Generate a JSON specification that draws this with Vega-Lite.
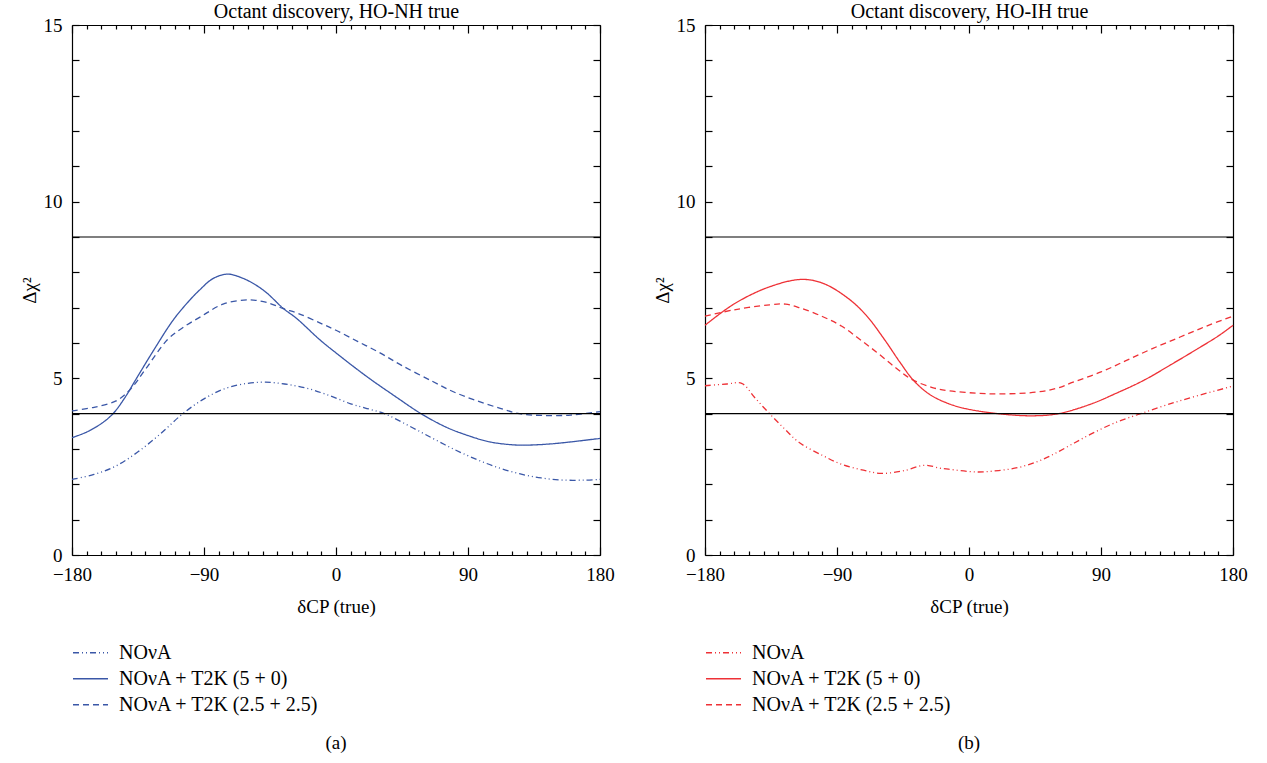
{
  "$schema": "https://vega.github.io/schema/vega-lite/v6.json",
  "background": "white",
  "padding": {"left": 20, "top": 1, "right": 5, "bottom": 0},
  "config": {
    "font": "Liberation Serif",
    "view": {"stroke": null},
    "axis": {"domainColor": "black", "domainWidth": 1.2, "tickColor": "black", "tickWidth": 1.2, "labelColor": "black", "titleColor": "black", "labelFont": "Liberation Serif", "titleFont": "Liberation Serif", "labelFontSize": 19, "titleFontSize": 19, "titleFontWeight": "normal", "grid": false, "labelFlush": false, "labelOverlap": false},
    "legend": {"labelFont": "Liberation Serif", "labelFontSize": 20, "labelColor": "black", "labelLimit": 500},
    "title": {"font": "Liberation Serif", "fontSize": 19, "fontWeight": "normal", "color": "black"}
  },
  "datasets": {
    "nh": [
      {"series": "NOνA", "delta": -180, "chi2": 2.14},
      {"series": "NOνA", "delta": -165, "chi2": 2.28},
      {"series": "NOνA", "delta": -150, "chi2": 2.52},
      {"series": "NOνA", "delta": -135, "chi2": 2.92},
      {"series": "NOνA", "delta": -120, "chi2": 3.42},
      {"series": "NOνA", "delta": -105, "chi2": 3.98},
      {"series": "NOνA", "delta": -90, "chi2": 4.42},
      {"series": "NOνA", "delta": -75, "chi2": 4.72},
      {"series": "NOνA", "delta": -60, "chi2": 4.86},
      {"series": "NOνA", "delta": -48, "chi2": 4.89},
      {"series": "NOνA", "delta": -35, "chi2": 4.84},
      {"series": "NOνA", "delta": -20, "chi2": 4.72},
      {"series": "NOνA", "delta": -5, "chi2": 4.52},
      {"series": "NOνA", "delta": 10, "chi2": 4.28},
      {"series": "NOνA", "delta": 20, "chi2": 4.16},
      {"series": "NOνA", "delta": 33, "chi2": 4.0},
      {"series": "NOνA", "delta": 50, "chi2": 3.65},
      {"series": "NOνA", "delta": 66, "chi2": 3.3},
      {"series": "NOνA", "delta": 80, "chi2": 3.0},
      {"series": "NOνA", "delta": 95, "chi2": 2.72},
      {"series": "NOνA", "delta": 110, "chi2": 2.48},
      {"series": "NOνA", "delta": 125, "chi2": 2.3},
      {"series": "NOνA", "delta": 140, "chi2": 2.18},
      {"series": "NOνA", "delta": 155, "chi2": 2.12},
      {"series": "NOνA", "delta": 170, "chi2": 2.12},
      {"series": "NOνA", "delta": 180, "chi2": 2.14},
      {"series": "NOνA + T2K (5 + 0)", "delta": -180, "chi2": 3.32},
      {"series": "NOνA + T2K (5 + 0)", "delta": -170, "chi2": 3.48},
      {"series": "NOνA + T2K (5 + 0)", "delta": -160, "chi2": 3.72},
      {"series": "NOνA + T2K (5 + 0)", "delta": -152, "chi2": 4.0},
      {"series": "NOνA + T2K (5 + 0)", "delta": -144, "chi2": 4.45},
      {"series": "NOνA + T2K (5 + 0)", "delta": -136, "chi2": 5.0},
      {"series": "NOνA + T2K (5 + 0)", "delta": -125, "chi2": 5.75},
      {"series": "NOνA + T2K (5 + 0)", "delta": -111, "chi2": 6.65},
      {"series": "NOνA + T2K (5 + 0)", "delta": -100, "chi2": 7.2},
      {"series": "NOνA + T2K (5 + 0)", "delta": -93, "chi2": 7.5},
      {"series": "NOνA + T2K (5 + 0)", "delta": -84, "chi2": 7.82},
      {"series": "NOνA + T2K (5 + 0)", "delta": -74, "chi2": 7.95},
      {"series": "NOνA + T2K (5 + 0)", "delta": -64, "chi2": 7.84},
      {"series": "NOνA + T2K (5 + 0)", "delta": -55, "chi2": 7.65},
      {"series": "NOνA + T2K (5 + 0)", "delta": -47, "chi2": 7.41},
      {"series": "NOνA + T2K (5 + 0)", "delta": -36, "chi2": 6.98},
      {"series": "NOνA + T2K (5 + 0)", "delta": -27, "chi2": 6.7},
      {"series": "NOνA + T2K (5 + 0)", "delta": -11, "chi2": 6.09},
      {"series": "NOνA + T2K (5 + 0)", "delta": 0, "chi2": 5.72},
      {"series": "NOνA + T2K (5 + 0)", "delta": 21, "chi2": 5.05},
      {"series": "NOνA + T2K (5 + 0)", "delta": 40, "chi2": 4.5},
      {"series": "NOνA + T2K (5 + 0)", "delta": 58, "chi2": 4.0},
      {"series": "NOνA + T2K (5 + 0)", "delta": 75, "chi2": 3.62},
      {"series": "NOνA + T2K (5 + 0)", "delta": 90, "chi2": 3.38},
      {"series": "NOνA + T2K (5 + 0)", "delta": 105, "chi2": 3.2},
      {"series": "NOνA + T2K (5 + 0)", "delta": 120, "chi2": 3.12},
      {"series": "NOνA + T2K (5 + 0)", "delta": 130, "chi2": 3.11},
      {"series": "NOνA + T2K (5 + 0)", "delta": 145, "chi2": 3.14},
      {"series": "NOνA + T2K (5 + 0)", "delta": 160, "chi2": 3.2},
      {"series": "NOνA + T2K (5 + 0)", "delta": 180, "chi2": 3.3},
      {"series": "NOνA + T2K (2.5 + 2.5)", "delta": -180, "chi2": 4.08},
      {"series": "NOνA + T2K (2.5 + 2.5)", "delta": -165, "chi2": 4.18},
      {"series": "NOνA + T2K (2.5 + 2.5)", "delta": -150, "chi2": 4.36},
      {"series": "NOνA + T2K (2.5 + 2.5)", "delta": -140, "chi2": 4.7},
      {"series": "NOνA + T2K (2.5 + 2.5)", "delta": -130, "chi2": 5.25},
      {"series": "NOνA + T2K (2.5 + 2.5)", "delta": -115, "chi2": 6.09},
      {"series": "NOνA + T2K (2.5 + 2.5)", "delta": -105, "chi2": 6.42},
      {"series": "NOνA + T2K (2.5 + 2.5)", "delta": -92, "chi2": 6.75},
      {"series": "NOνA + T2K (2.5 + 2.5)", "delta": -77, "chi2": 7.1},
      {"series": "NOνA + T2K (2.5 + 2.5)", "delta": -59, "chi2": 7.22},
      {"series": "NOνA + T2K (2.5 + 2.5)", "delta": -45, "chi2": 7.12},
      {"series": "NOνA + T2K (2.5 + 2.5)", "delta": -36, "chi2": 6.97},
      {"series": "NOνA + T2K (2.5 + 2.5)", "delta": -26, "chi2": 6.84},
      {"series": "NOνA + T2K (2.5 + 2.5)", "delta": -10, "chi2": 6.55},
      {"series": "NOνA + T2K (2.5 + 2.5)", "delta": 0, "chi2": 6.36},
      {"series": "NOνA + T2K (2.5 + 2.5)", "delta": 15, "chi2": 6.04},
      {"series": "NOνA + T2K (2.5 + 2.5)", "delta": 30, "chi2": 5.72},
      {"series": "NOνA + T2K (2.5 + 2.5)", "delta": 45, "chi2": 5.36},
      {"series": "NOνA + T2K (2.5 + 2.5)", "delta": 66, "chi2": 4.91},
      {"series": "NOνA + T2K (2.5 + 2.5)", "delta": 80, "chi2": 4.62},
      {"series": "NOνA + T2K (2.5 + 2.5)", "delta": 95, "chi2": 4.38},
      {"series": "NOνA + T2K (2.5 + 2.5)", "delta": 112, "chi2": 4.15},
      {"series": "NOνA + T2K (2.5 + 2.5)", "delta": 125, "chi2": 4.0},
      {"series": "NOνA + T2K (2.5 + 2.5)", "delta": 140, "chi2": 3.95},
      {"series": "NOνA + T2K (2.5 + 2.5)", "delta": 160, "chi2": 3.96},
      {"series": "NOνA + T2K (2.5 + 2.5)", "delta": 180, "chi2": 4.06}
    ],
    "ih": [
      {"series": "NOνA", "delta": -180, "chi2": 4.79},
      {"series": "NOνA", "delta": -165, "chi2": 4.84},
      {"series": "NOνA", "delta": -155, "chi2": 4.86},
      {"series": "NOνA", "delta": -146, "chi2": 4.45},
      {"series": "NOνA", "delta": -136, "chi2": 4.0},
      {"series": "NOνA", "delta": -126, "chi2": 3.58},
      {"series": "NOνA", "delta": -116, "chi2": 3.19},
      {"series": "NOνA", "delta": -100, "chi2": 2.82},
      {"series": "NOνA", "delta": -87, "chi2": 2.57},
      {"series": "NOνA", "delta": -72, "chi2": 2.4},
      {"series": "NOνA", "delta": -60, "chi2": 2.31},
      {"series": "NOνA", "delta": -45, "chi2": 2.38},
      {"series": "NOνA", "delta": -30, "chi2": 2.54},
      {"series": "NOνA", "delta": -20, "chi2": 2.46},
      {"series": "NOνA", "delta": -14, "chi2": 2.43},
      {"series": "NOνA", "delta": 5, "chi2": 2.35},
      {"series": "NOνA", "delta": 20, "chi2": 2.39},
      {"series": "NOνA", "delta": 34, "chi2": 2.48},
      {"series": "NOνA", "delta": 47, "chi2": 2.65},
      {"series": "NOνA", "delta": 58, "chi2": 2.86},
      {"series": "NOνA", "delta": 70, "chi2": 3.13},
      {"series": "NOνA", "delta": 83, "chi2": 3.42},
      {"series": "NOνA", "delta": 100, "chi2": 3.75},
      {"series": "NOνA", "delta": 117, "chi2": 4.0},
      {"series": "NOνA", "delta": 135, "chi2": 4.25},
      {"series": "NOνA", "delta": 156, "chi2": 4.51},
      {"series": "NOνA", "delta": 180, "chi2": 4.78},
      {"series": "NOνA + T2K (5 + 0)", "delta": -180, "chi2": 6.5},
      {"series": "NOνA + T2K (5 + 0)", "delta": -160, "chi2": 7.11},
      {"series": "NOνA + T2K (5 + 0)", "delta": -136, "chi2": 7.59},
      {"series": "NOνA + T2K (5 + 0)", "delta": -114, "chi2": 7.8},
      {"series": "NOνA + T2K (5 + 0)", "delta": -99, "chi2": 7.68},
      {"series": "NOνA + T2K (5 + 0)", "delta": -82, "chi2": 7.25},
      {"series": "NOνA + T2K (5 + 0)", "delta": -70, "chi2": 6.78},
      {"series": "NOνA + T2K (5 + 0)", "delta": -58, "chi2": 6.12},
      {"series": "NOνA + T2K (5 + 0)", "delta": -47, "chi2": 5.45},
      {"series": "NOνA + T2K (5 + 0)", "delta": -38, "chi2": 4.95},
      {"series": "NOνA + T2K (5 + 0)", "delta": -27, "chi2": 4.55},
      {"series": "NOνA + T2K (5 + 0)", "delta": -15, "chi2": 4.3},
      {"series": "NOνA + T2K (5 + 0)", "delta": -2, "chi2": 4.14},
      {"series": "NOνA + T2K (5 + 0)", "delta": 22, "chi2": 3.99},
      {"series": "NOνA + T2K (5 + 0)", "delta": 44, "chi2": 3.94},
      {"series": "NOνA + T2K (5 + 0)", "delta": 61, "chi2": 4.0},
      {"series": "NOνA + T2K (5 + 0)", "delta": 83, "chi2": 4.27},
      {"series": "NOνA + T2K (5 + 0)", "delta": 100, "chi2": 4.57},
      {"series": "NOνA + T2K (5 + 0)", "delta": 119, "chi2": 4.94},
      {"series": "NOνA + T2K (5 + 0)", "delta": 137, "chi2": 5.37},
      {"series": "NOνA + T2K (5 + 0)", "delta": 156, "chi2": 5.84},
      {"series": "NOνA + T2K (5 + 0)", "delta": 170, "chi2": 6.2},
      {"series": "NOνA + T2K (5 + 0)", "delta": 180, "chi2": 6.5},
      {"series": "NOνA + T2K (2.5 + 2.5)", "delta": -180, "chi2": 6.76},
      {"series": "NOνA + T2K (2.5 + 2.5)", "delta": -160, "chi2": 6.94},
      {"series": "NOνA + T2K (2.5 + 2.5)", "delta": -136, "chi2": 7.08},
      {"series": "NOνA + T2K (2.5 + 2.5)", "delta": -125, "chi2": 7.1},
      {"series": "NOνA + T2K (2.5 + 2.5)", "delta": -115, "chi2": 6.99},
      {"series": "NOνA + T2K (2.5 + 2.5)", "delta": -100, "chi2": 6.75},
      {"series": "NOνA + T2K (2.5 + 2.5)", "delta": -87, "chi2": 6.48},
      {"series": "NOνA + T2K (2.5 + 2.5)", "delta": -75, "chi2": 6.12},
      {"series": "NOνA + T2K (2.5 + 2.5)", "delta": -63, "chi2": 5.74},
      {"series": "NOνA + T2K (2.5 + 2.5)", "delta": -50, "chi2": 5.3},
      {"series": "NOνA + T2K (2.5 + 2.5)", "delta": -39, "chi2": 4.97},
      {"series": "NOνA + T2K (2.5 + 2.5)", "delta": -25, "chi2": 4.74},
      {"series": "NOνA + T2K (2.5 + 2.5)", "delta": -14, "chi2": 4.65},
      {"series": "NOνA + T2K (2.5 + 2.5)", "delta": 5, "chi2": 4.58},
      {"series": "NOνA + T2K (2.5 + 2.5)", "delta": 22, "chi2": 4.56},
      {"series": "NOνA + T2K (2.5 + 2.5)", "delta": 46, "chi2": 4.61},
      {"series": "NOνA + T2K (2.5 + 2.5)", "delta": 60, "chi2": 4.72},
      {"series": "NOνA + T2K (2.5 + 2.5)", "delta": 71, "chi2": 4.89},
      {"series": "NOνA + T2K (2.5 + 2.5)", "delta": 90, "chi2": 5.18},
      {"series": "NOνA + T2K (2.5 + 2.5)", "delta": 107, "chi2": 5.5},
      {"series": "NOνA + T2K (2.5 + 2.5)", "delta": 125, "chi2": 5.84},
      {"series": "NOνA + T2K (2.5 + 2.5)", "delta": 144, "chi2": 6.17},
      {"series": "NOνA + T2K (2.5 + 2.5)", "delta": 162, "chi2": 6.48},
      {"series": "NOνA + T2K (2.5 + 2.5)", "delta": 180, "chi2": 6.76}
    ],
    "levels": [
      {"level": 4, "from": -180, "to": 180},
      {"level": 9, "from": -180, "to": 180}
    ]
  },
  "spacing": 38,
  "resolve": {"scale": {"strokeDash": "independent"}, "legend": {"strokeDash": "independent"}},
  "hconcat": [
    {
      "spacing": 16,
      "resolve": {"scale": {"strokeDash": "independent"}, "legend": {"strokeDash": "independent"}},
      "vconcat": [
        {
          "width": 528,
          "height": 530,
          "layer": [
            {
              "data": {"name": "nh"},
              "mark": {"type": "line", "color": "#3a57a7", "strokeWidth": 1.3, "interpolate": "catmull-rom"},
              "encoding": {
                "x": {"field": "delta", "type": "quantitative", "scale": {"domain": [-180, 180], "nice": false},
                  "axis": {"orient": "bottom", "values": [-180,-170,-160,-150,-140,-130,-120,-110,-100,-90,-80,-70,-60,-50,-40,-30,-20,-10,0,10,20,30,40,50,60,70,80,90,100,110,120,130,140,150,160,170,180],
                    "labelExpr": "datum.value % 90 === 0 ? datum.label : ''", "tickSize": {"condition": {"test": "datum.value % 90 === 0", "value": -8}, "value": -4},
                    "labelPadding": 18, "title": "δCP (true)", "titlePadding": 9}},
                "y": {"field": "chi2", "type": "quantitative", "scale": {"domain": [0, 15], "nice": false},
                  "axis": {"orient": "left", "values": [0,1,2,3,4,5,6,7,8,9,10,11,12,13,14,15], "labelExpr": "datum.value % 5 === 0 ? datum.label : ''",
                    "tickSize": -7, "labelPadding": 17, "title": "Δχ²", "titlePadding": 4}},
                "strokeDash": {"field": "series", "type": "nominal",
                  "scale": {"domain": ["NOνA", "NOνA + T2K (5 + 0)", "NOνA + T2K (2.5 + 2.5)"], "range": [[6, 3, 1, 3, 1, 3], [1, 0], [6, 4]]},
                  "legend": {"orient": "bottom", "direction": "vertical", "title": null, "symbolType": "stroke", "symbolSize": 1225, "symbolStrokeWidth": 1.3, "symbolStrokeColor": "#3a57a7", "clipHeight": 23.5, "labelOffset": 10, "offset": 25}}
              }
            },
            {
              "data": {"name": "levels"},
              "mark": {"type": "rule", "color": "black", "strokeWidth": 1.2},
              "encoding": {
                "x": {"field": "from", "type": "quantitative",
                  "axis": {"orient": "top", "values": [-180,-170,-160,-150,-140,-130,-120,-110,-100,-90,-80,-70,-60,-50,-40,-30,-20,-10,0,10,20,30,40,50,60,70,80,90,100,110,120,130,140,150,160,170,180],
                    "labels": false, "tickSize": {"condition": {"test": "datum.value % 90 === 0", "value": -8}, "value": -4}, "title": "Octant discovery, HO-NH true", "titlePadding": 3, "titleFontSize": 20}},
                "x2": {"field": "to"},
                "y": {"field": "level", "type": "quantitative",
                  "axis": {"orient": "right", "values": [0,1,2,3,4,5,6,7,8,9,10,11,12,13,14,15], "labels": false, "tickSize": -7, "title": null}}
              }
            }
          ],
          "resolve": {"axis": {"x": "independent", "y": "independent"}}
        },
        {
          "width": 528,
          "height": 20,
          "data": {"values": [{"caption": "(a)"}]},
          "mark": {"type": "text", "font": "Liberation Serif", "fontSize": 19, "color": "black"},
          "encoding": {"text": {"field": "caption", "type": "nominal"}}
        }
      ]
    },
    {
      "spacing": 16,
      "resolve": {"scale": {"strokeDash": "independent"}, "legend": {"strokeDash": "independent"}},
      "vconcat": [
        {
          "width": 528,
          "height": 530,
          "layer": [
            {
              "data": {"name": "ih"},
              "mark": {"type": "line", "color": "#ee3136", "strokeWidth": 1.3, "interpolate": "catmull-rom"},
              "encoding": {
                "x": {"field": "delta", "type": "quantitative", "scale": {"domain": [-180, 180], "nice": false},
                  "axis": {"orient": "bottom", "values": [-180,-170,-160,-150,-140,-130,-120,-110,-100,-90,-80,-70,-60,-50,-40,-30,-20,-10,0,10,20,30,40,50,60,70,80,90,100,110,120,130,140,150,160,170,180],
                    "labelExpr": "datum.value % 90 === 0 ? datum.label : ''", "tickSize": {"condition": {"test": "datum.value % 90 === 0", "value": -8}, "value": -4},
                    "labelPadding": 18, "title": "δCP (true)", "titlePadding": 9}},
                "y": {"field": "chi2", "type": "quantitative", "scale": {"domain": [0, 15], "nice": false},
                  "axis": {"orient": "left", "values": [0,1,2,3,4,5,6,7,8,9,10,11,12,13,14,15], "labelExpr": "datum.value % 5 === 0 ? datum.label : ''",
                    "tickSize": -7, "labelPadding": 17, "title": "Δχ²", "titlePadding": 4}},
                "strokeDash": {"field": "series", "type": "nominal",
                  "scale": {"domain": ["NOνA", "NOνA + T2K (5 + 0)", "NOνA + T2K (2.5 + 2.5)"], "range": [[6, 3, 1, 3, 1, 3], [1, 0], [6, 4]]},
                  "legend": {"orient": "bottom", "direction": "vertical", "title": null, "symbolType": "stroke", "symbolSize": 1225, "symbolStrokeWidth": 1.3, "symbolStrokeColor": "#ee3136", "clipHeight": 23.5, "labelOffset": 10, "offset": 25}}
              }
            },
            {
              "data": {"name": "levels"},
              "mark": {"type": "rule", "color": "black", "strokeWidth": 1.2},
              "encoding": {
                "x": {"field": "from", "type": "quantitative",
                  "axis": {"orient": "top", "values": [-180,-170,-160,-150,-140,-130,-120,-110,-100,-90,-80,-70,-60,-50,-40,-30,-20,-10,0,10,20,30,40,50,60,70,80,90,100,110,120,130,140,150,160,170,180],
                    "labels": false, "tickSize": {"condition": {"test": "datum.value % 90 === 0", "value": -8}, "value": -4}, "title": "Octant discovery, HO-IH true", "titlePadding": 3, "titleFontSize": 20}},
                "x2": {"field": "to"},
                "y": {"field": "level", "type": "quantitative",
                  "axis": {"orient": "right", "values": [0,1,2,3,4,5,6,7,8,9,10,11,12,13,14,15], "labels": false, "tickSize": -7, "title": null}}
              }
            }
          ],
          "resolve": {"axis": {"x": "independent", "y": "independent"}}
        },
        {
          "width": 528,
          "height": 20,
          "data": {"values": [{"caption": "(b)"}]},
          "mark": {"type": "text", "font": "Liberation Serif", "fontSize": 19, "color": "black"},
          "encoding": {"text": {"field": "caption", "type": "nominal"}}
        }
      ]
    }
  ]
}
